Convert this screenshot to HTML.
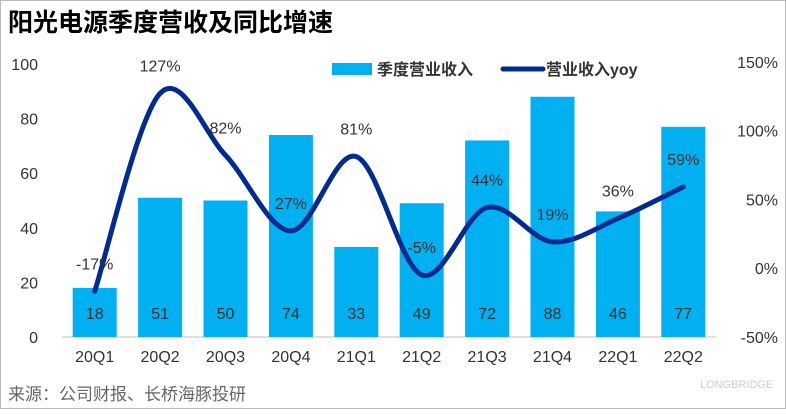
<!DOCTYPE html>
<html><head><meta charset="utf-8"><style>
body{margin:0;background:#fff;}
svg text{font-family:"Liberation Sans","Noto Sans CJK SC",sans-serif;}
</style></head><body>
<svg width="786" height="409" viewBox="0 0 786 409">
<rect x="0.5" y="0.5" width="785" height="408" fill="#fff" stroke="#bbb"/>
<text x="8" y="31" font-size="25" font-weight="bold" fill="#000">阳光电源季度营收及同比增速</text>
<g id="axes"></g>
<g id="bars"></g>
<g id="line"></g>
<g>
<rect x="332" y="63" width="40" height="12" fill="#00B0F0"/>
<text x="377" y="75" font-size="16" font-weight="bold" fill="#333">季度营业收入</text>
<line x1="503" y1="69" x2="543" y2="69" stroke="#002C8F" stroke-width="5" stroke-linecap="round"/>
<text x="546" y="75" font-size="16" font-weight="bold" fill="#333">营业收入yoy</text>
</g>
<text x="8" y="400" font-size="17" fill="#666">来源：公司财报、长桥海豚投研</text>
<text x="700" y="388" font-size="11" fill="#ccc">LONGBRIDGE</text>
</svg>
<script>
const categories=["20Q1","20Q2","20Q3","20Q4","21Q1","21Q2","21Q3","21Q4","22Q1","22Q2"];
const revenue=[18,51,50,74,33,49,72,88,46,77];
const yoy=[-17,127,82,27,81,-5,44,19,36,59];
const leftTicks=[0,20,40,60,80,100];
const rightTicks=[-50,0,50,100,150];
const NS="http://www.w3.org/2000/svg";
const x0=62,step=65.4,bw=44;
const xc=i=>x0+step*(i+0.5);
const yL=v=>337-v*2.73;
const yR=v=>268-v*1.375;
function mk(t,a,p){const e=document.createElementNS(NS,t);for(const k in a)e.setAttribute(k,a[k]);p.appendChild(e);return e;}
const ax=document.getElementById('axes'),bg=document.getElementById('bars'),lg=document.getElementById('line');
leftTicks.forEach(v=>{const t=mk('text',{x:38,y:yL(v)+6,'font-size':16,fill:'#333','text-anchor':'end'},ax);t.textContent=v;

});
rightTicks.forEach(v=>{const t=mk('text',{x:778,y:yR(v)+6,'font-size':16,fill:'#333','text-anchor':'end'},ax);t.textContent=v+'%';

});
const base=mk('line',{x1:x0,x2:x0+step*10,y1:337,y2:337,stroke:'#bfbfbf','stroke-width':1},ax);


categories.forEach((c,i)=>{const t=mk('text',{x:xc(i),y:362,'font-size':16,fill:'#333','text-anchor':'middle'},ax);t.textContent=c;

});
revenue.forEach((v,i)=>{const r=mk('rect',{x:xc(i)-bw/2,y:yL(v),width:bw,height:337-yL(v),fill:'#00B0F0'},bg);


const t=mk('text',{x:xc(i),y:319,'font-size':16,fill:'#333','text-anchor':'middle'},bg);t.textContent=v;

});
const pts=yoy.map((v,i)=>[xc(i),yR(v)]);
let d='M'+pts[0][0]+','+pts[0][1];
for(let i=0;i<pts.length-1;i++){const p0=pts[Math.max(0,i-1)],p1=pts[i],p2=pts[i+1],p3=pts[Math.min(pts.length-1,i+2)];
const c1=[p1[0]+(p2[0]-p0[0])/6,p1[1]+(p2[1]-p0[1])/6],c2=[p2[0]-(p3[0]-p1[0])/6,p2[1]-(p3[1]-p1[1])/6];
d+=` C${c1[0]},${c1[1]} ${c2[0]},${c2[1]} ${p2[0]},${p2[1]}`;}
const path=mk('path',{d:d,fill:'none',stroke:'#002C8F','stroke-width':5,'stroke-linecap':'round'},lg);


yoy.forEach((v,i)=>{const t=mk('text',{x:xc(i),y:yR(v)-22,'font-size':16,fill:'#333','text-anchor':'middle'},lg);t.textContent=v+'%';

});
</script>
</body></html>
